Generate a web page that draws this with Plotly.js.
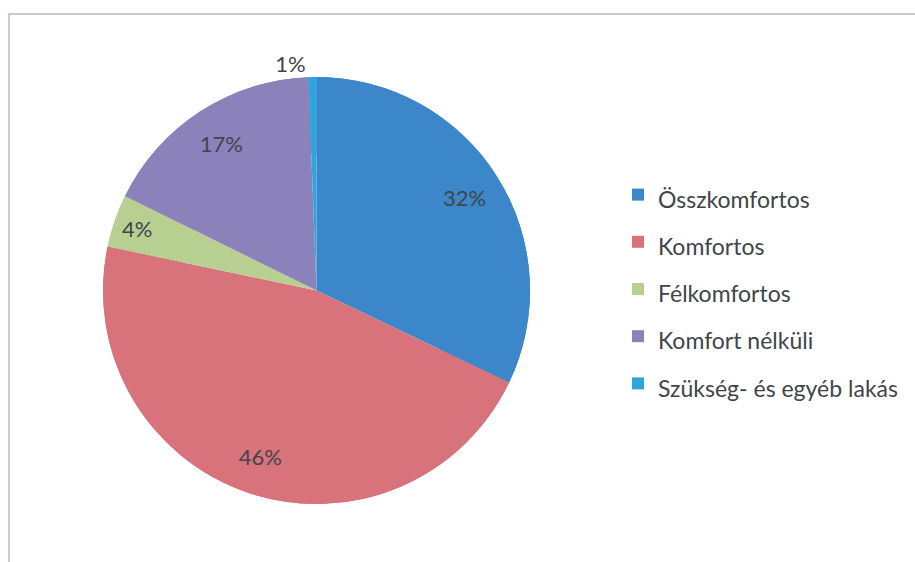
<!DOCTYPE html>
<html>
<head>
<meta charset="utf-8">
<script src="https://cdn.plot.ly/plotly-3.0.1.min.js"></script>
<style>html,body{margin:0;padding:0;background:#fff;}#chart{width:915px;height:562px;}</style>
</head>
<body>
<div id="chart"></div>
<script>
const categories = ['Összkomfortos', 'Komfortos', 'Félkomfortos', 'Komfort nélküli', 'Szükség- és egyéb lakás'];
const shares = [32.1, 46.2, 4.0, 17.1, 0.6];
const sliceColors = ['#3b87c9', '#d8727b', '#b8cf92', '#8b82bb', '#2ea6dd'];

const W = 915, H = 562;
const FONT = 'Lato, Open Sans, sans-serif';
const TEXT_COLOR = '#3f4549';
const domain = {x: [103 / W, 530 / W], y: [1 - 504 / H, 1 - 77 / H]};

const labels = categories.map(c => '<span style="font-size:23px">' + c + '</span>');

// Full disc underneath (no text, no legend)
const base = {
  type: 'pie',
  labels: labels,
  values: shares,
  sort: false,
  direction: 'clockwise',
  rotation: 0,
  marker: {colors: sliceColors, line: {width: 0}},
  textinfo: 'none',
  hoverinfo: 'skip',
  showlegend: false,
  domain: domain,
  automargin: false
};

// Ring on top carrying the percentage labels near the rim, and the legend
const ring = {
  type: 'pie',
  labels: labels,
  values: shares,
  hole: 0.64,
  sort: false,
  direction: 'clockwise',
  rotation: 0,
  marker: {colors: sliceColors, line: {width: 0}},
  textinfo: 'percent',
  texttemplate: '%{percent:.0%}',
  textposition: ['inside', 'inside', 'inside', 'inside', 'outside'],
  insidetextorientation: 'horizontal',
  textfont: {family: FONT, size: 22, color: TEXT_COLOR},
  outsidetextfont: {family: FONT, size: 22, color: TEXT_COLOR},
  hoverinfo: 'percent',
  domain: domain,
  automargin: false
};

const layout = {
  width: W, height: H,
  margin: {l: 0, r: 0, t: 0, b: 0},
  paper_bgcolor: '#ffffff',
  showlegend: true,
  legend: {
    x: 618 / W, y: 1 - 166 / H, xanchor: 'left', yanchor: 'top',
    font: {family: FONT, size: 34, color: TEXT_COLOR},
    bgcolor: 'rgba(0,0,0,0)'
  },
  shapes: [{
    type: 'rect', xref: 'paper', yref: 'paper',
    x0: 9 / W, x1: 1.02, y0: -0.02, y1: 1 - 14 / H,
    line: {color: '#b4bcc4', width: 1.5}, fillcolor: 'rgba(0,0,0,0)', layer: 'below'
  }]
};

Plotly.newPlot('chart', [base, ring], layout, {displayModeBar: false, staticPlot: true});
</script>
</body>
</html>
